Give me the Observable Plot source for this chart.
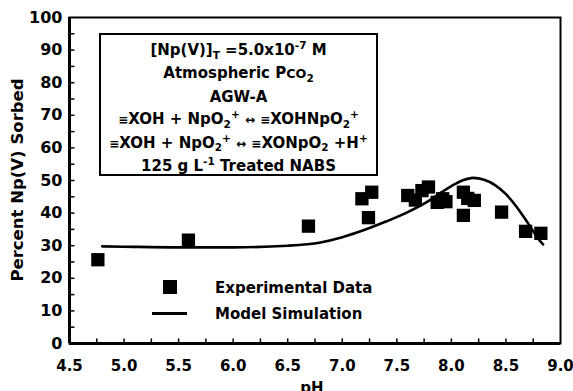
<!DOCTYPE html>
<html>
<head>
<meta charset="utf-8">
<script src="https://cdn.jsdelivr.net/npm/d3@7"></script>
<script src="https://cdn.jsdelivr.net/npm/@observablehq/plot@0.6"></script>
<style>
  body { margin: 0; background: #fff; }
  #wrap { position: relative; width: 573px; height: 391px; overflow: hidden; font-family: "DejaVu Sans", sans-serif; font-weight: bold; color: #000; }
  #box { position: absolute; left: 99px; top: 33px; width: 275px; height: 135px; border: 2.5px solid #000; text-align: center; font-size: 15px; line-height: 22.4px; padding-top: 4px; box-sizing: content-box; white-space: nowrap; }
  .sb { font-size: 70%; position: relative; top: 0.35em; }
  .sp { font-size: 70%; position: relative; top: -0.55em; }
  .ov { position: absolute; white-space: nowrap; }
</style>
</head>
<body>
<div id="wrap"></div>
<script>
// Experimental data (pH, percent sorbed)
const expPH  = [4.76, 5.59, 6.69, 7.18, 7.27, 7.24, 7.60, 7.67, 7.73, 7.79, 7.87, 7.92, 7.95, 8.11, 8.21, 8.15, 8.11, 8.46, 8.68, 8.82];
const expPct = [25.7, 31.7, 36.0, 44.4, 46.4, 38.6, 45.4, 44.0, 46.9, 48.0, 43.3, 44.4, 43.5, 46.4, 43.9, 44.5, 39.3, 40.3, 34.4, 33.8];
// Model simulation
const modPH  = [4.8, 5.0, 5.5, 6.0, 6.5, 6.8, 7.0, 7.2, 7.4, 7.6, 7.8, 7.9, 8.0, 8.1, 8.2, 8.3, 8.4, 8.5, 8.6, 8.7, 8.8, 8.84];
const modPct = [29.8, 29.7, 29.5, 29.5, 30.0, 31.0, 32.6, 34.8, 37.4, 40.3, 43.9, 46.2, 48.3, 50.0, 50.8, 50.2, 48.6, 45.8, 41.8, 37.0, 32.0, 30.4];
// Axis ticks
const xLabels = [4.5, 5.0, 5.5, 6.0, 6.5, 7.0, 7.5, 8.0, 8.5, 9.0];
const xMinor = [4.75, 5.0, 5.25, 5.5, 5.75, 6.0, 6.25, 6.5, 6.75, 7.0, 7.25, 7.5, 7.75, 8.0, 8.25, 8.5, 8.75];
const yLabels = [0, 10, 20, 30, 40, 50, 60, 70, 80, 90, 100];
const yMinor = [5, 10, 15, 20, 25, 30, 35, 40, 45, 50, 55, 60, 65, 70, 75, 80, 85, 90, 95];
const legendLabels = ["Experimental Data", "Model Simulation"];
const xTitle = "pH";
const yTitle = "Percent Np(V) Sorbed";

const exp = expPH.map((x, i) => ({x, y: expPct[i]}));
const mod = modPH.map((x, i) => ({x, y: modPct[i]}));

const chart = Plot.plot({
  width: 573,
  height: 391,
  marginLeft: 69,
  marginRight: 13,
  marginTop: 17,
  marginBottom: 48,
  style: {fontFamily: "'DejaVu Sans', sans-serif", fontSize: "15px", fontWeight: "bold", color: "#000", background: "transparent"},
  x: {domain: [4.5, 9.0]},
  y: {domain: [0, 100]},
  marks: [
    Plot.frame({stroke: "#000", strokeWidth: 2}),
    Plot.ruleX([4.5], {stroke: "#000", strokeWidth: 3}),
    Plot.ruleY([0], {stroke: "#000", strokeWidth: 3}),
    Plot.ruleX(xMinor, {x: d => d, y1: 0, y2: 1.4, stroke: "#000", strokeWidth: 1.5}),
    Plot.ruleY(yMinor, {y: d => d, x1: 4.5, x2: 4.55, stroke: "#000", strokeWidth: 1.5}),
    Plot.axisX({ticks: xLabels, tickSize: 0, tickPadding: 17, tickFormat: d => d.toFixed(1), label: null}),
    Plot.axisY({ticks: yLabels, tickSize: 0, tickPadding: 7, label: null}),
    Plot.line(mod, {x: "x", y: "y", curve: "monotone-x", stroke: "#000", strokeWidth: 2.6}),
    Plot.dot(exp, {x: "x", y: "y", symbol: "square", r: 7.5, fill: "#000", stroke: "none"})
  ]
});
const wrap = document.getElementById("wrap");
wrap.appendChild(chart);
chart.querySelectorAll("[aria-label='y-axis tick label'] text").forEach(t => t.style.fontSize = "16px");

function ov(html, css) {
  const d = document.createElement("div");
  d.className = "ov";
  d.innerHTML = html;
  Object.assign(d.style, css);
  wrap.appendChild(d);
  return d;
}

// annotation box
const box = document.createElement("div");
box.id = "box";
box.innerHTML = [
  '[Np(V)]<span class="sb">T</span> =5.0x10<span class="sp">-7</span> M',
  'Atmospheric P<span style="font-size:85%">CO</span><span class="sb">2</span>',
  'AGW-A',
  '<span style="font-size:80%">≡</span>XOH + NpO<span class="sb">2</span><span class="sp">+</span> <span style="font-size:80%">↔</span> <span style="font-size:80%">≡</span>XOHNpO<span class="sb">2</span><span class="sp">+</span>',
  '<span style="font-size:80%">≡</span>XOH + NpO<span class="sb">2</span><span class="sp">+</span> <span style="font-size:80%">↔</span> <span style="font-size:80%">≡</span>XONpO<span class="sb">2</span> +H<span class="sp">+</span>',
  '125 g L<span class="sp">-1</span> Treated NABS'
].map(s => `<div>${s}</div>`).join("");
wrap.appendChild(box);

// legend
ov('<div style="width:14px;height:14px;background:#000"></div>', {left: "163px", top: "280px"});
ov('<div style="width:35px;height:2.6px;background:#000"></div>', {left: "152px", top: "312px"});
ov(legendLabels[0], {left: "215px", top: "279px", fontSize: "15px"});
ov(legendLabels[1], {left: "215px", top: "305px", fontSize: "15px"});

// axis titles
ov(yTitle, {left: "17px", top: "180px", fontSize: "16.5px", transform: "translate(-50%,-50%) rotate(-90deg)"});
ov(xTitle, {left: "312px", top: "379px", fontSize: "15px", transform: "translateX(-50%)"});
</script>
</body>
</html>
